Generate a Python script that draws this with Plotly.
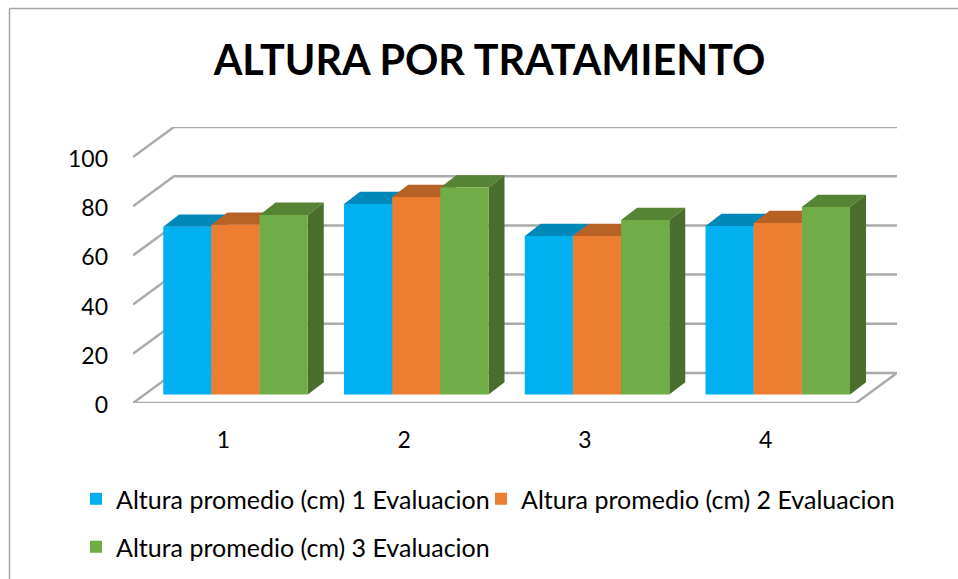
import plotly.graph_objects as go

categorias = [1, 2, 3, 4]
altura_1 = [68.2, 77.4, 64.4, 68.5]
altura_2 = [69.0, 80.3, 64.4, 69.7]
altura_3 = [73.0, 84.1, 70.9, 76.2]
nombres = ["Altura promedio (cm) 1 Evaluacion",
           "Altura promedio (cm) 2 Evaluacion",
           "Altura promedio (cm) 3 Evaluacion"]
marcas_y = [0, 20, 40, 60, 80, 100]

colores = ["#00B0F0", "#ED7D31", "#70AD47"]
colores_top = ["#0088BA", "#B86125", "#558435"]
colores_lado = ["#006F99", "#8F4B1D", "#4A6E2D"]

# profundidad del "3D" en unidades de los ejes
PROF_X, PROF_Y = 0.2268, 12.195
BAR_W = 0.2665
BAR_DX, BAR_DY = 0.0885, 5.0
OFF_X, BASE = 0.0672, 3.46
GRID = "#ABABAB"
FUENTE = "Lato"


def px_x(p):
    return (p - 133) / 764


def px_y(p):
    return (403 - p) / 276


fig = go.Figure()

# paredes y suelo
x0, x1 = 0.5, 4.5
for t in marcas_y:
    xs = [x0, x0 + PROF_X, x1 + PROF_X]
    ys = [t, t + PROF_Y, t + PROF_Y]
    if t == 0:
        xs += [x1, x0]
        ys += [0, 0]
    fig.add_trace(go.Scatter(x=xs, y=ys, mode="lines", line=dict(color=GRID, width=2.5),
                             showlegend=False, hoverinfo="skip", cliponaxis=False, zorder=-1))

series = [altura_1, altura_2, altura_3]
leyendas = ["legend", "legend2", "legend3"]
for i, valores in enumerate(series):
    xs_izq = [c + OFF_X + (i - 1.5) * BAR_W for c in categorias]
    for xi, v in zip(xs_izq, valores):
        techo = v + BASE
        xd = xi + BAR_W
        # cara superior
        fig.add_trace(go.Scatter(
            x=[xi, xd, xd + BAR_DX, xi + BAR_DX, xi],
            y=[techo, techo, techo + BAR_DY, techo + BAR_DY, techo],
            mode="lines", fill="toself", fillcolor=colores_top[i], line=dict(width=0),
            showlegend=False, hoverinfo="skip", cliponaxis=False, zorder=2 * i))
        # cara lateral
        fig.add_trace(go.Scatter(
            x=[xd, xd + BAR_DX, xd + BAR_DX, xd, xd],
            y=[BASE, BASE + BAR_DY, techo + BAR_DY, techo, BASE],
            mode="lines", fill="toself", fillcolor=colores_lado[i], line=dict(width=0),
            showlegend=False, hoverinfo="skip", cliponaxis=False, zorder=2 * i))
    fig.add_trace(go.Bar(x=[x + BAR_W / 2 for x in xs_izq], y=valores, base=BASE, width=BAR_W,
                         name=nombres[i], marker=dict(color=colores[i], line=dict(width=0)),
                         legend=leyendas[i], zorder=2 * i + 1))

leyenda = dict(orientation="h", xanchor="left", yanchor="middle",
               font=dict(family=FUENTE, size=25, color="#000000"),
               bgcolor="rgba(0,0,0,0)", itemclick=False, itemdoubleclick=False)

fig.update_layout(
    width=958, height=579,
    margin=dict(l=133, r=61, t=127, b=176, autoexpand=False),
    autosize=False,
    paper_bgcolor="white", plot_bgcolor="rgba(0,0,0,0)",
    barmode="overlay",
    title=dict(text="<b>ALTURA POR TRATAMIENTO</b>", x=489.5 / 958, xanchor="center",
               y=1 - 61 / 579, yanchor="middle",
               font=dict(family=FUENTE, size=41.3, color="#000000")),
    xaxis=dict(range=[0.5, 0.5 + 764 / 180.75], tickvals=categorias, showgrid=False, zeroline=False,
               showline=False, ticks="", ticklabelstandoff=21,
               tickfont=dict(family=FUENTE, size=23, color="#000000")),
    yaxis=dict(range=[0, 276 / 2.46], tickvals=marcas_y, showgrid=False, zeroline=False,
               showline=False, ticks="", ticklabelstandoff=24, ticklabelshift=2,
               tickfont=dict(family=FUENTE, size=23, color="#000000")),
    legend=dict(leyenda, x=px_x(76), y=px_y(499)),
    legend2=dict(leyenda, x=px_x(481), y=px_y(499)),
    legend3=dict(leyenda, x=px_x(76), y=px_y(547)),
    shapes=[
        dict(type="line", xref="paper", yref="paper", x0=px_x(9.5), x1=px_x(958), y0=px_y(8.5), y1=px_y(8.5),
             line=dict(color="#A6A6A6", width=1.5)),
        dict(type="line", xref="paper", yref="paper", x0=px_x(9.5), x1=px_x(9.5), y0=px_y(8.5), y1=px_y(579),
             line=dict(color="#A6A6A6", width=1.5)),
    ],
)

# sin el margen por defecto de la pagina
fig.write_html("out.html", config=dict(displayModeBar=False),
               post_script="document.body.style.margin='0';")
